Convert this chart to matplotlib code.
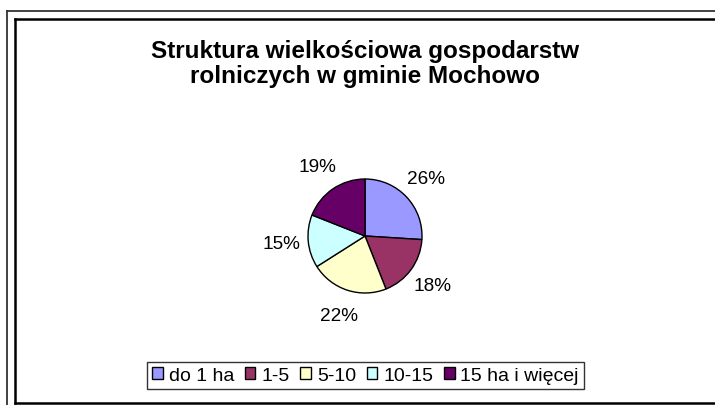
import matplotlib.pyplot as plt
from matplotlib.lines import Line2D

plt.rcParams['font.family'] = ['Liberation Sans', 'DejaVu Sans']

categories = ['do 1 ha', '1-5', '5-10', '10-15', '15 ha i więcej']
shares = [26, 18, 22, 15, 19]
colours = ['#9999FF', '#993366', '#FFFFCC', '#CCFFFF', '#660066']
title = 'Struktura wielkościowa gospodarstw\nrolniczych w gminie Mochowo'

W, H = 715, 406
fig = plt.figure(figsize=(W / 100, H / 100), dpi=100)

# chart frame (pixel coords -> figure coords)
def px(x, y):
    return x / W, 1 - y / H

def line(p0, p1, **kw):
    (x0, y0), (x1, y1) = px(*p0), px(*p1)
    fig.add_artist(Line2D([x0, x1], [y0, y1], transform=fig.transFigure, **kw))

line((7, 12), (W, 12), color='#333333', lw=1.3)
line((7, 12), (7, H), color='#333333', lw=1.3)
line((15, 20), (W, 20), color='black', lw=1.8)
line((15, 20), (15, 404), color='black', lw=1.8)
line((15, 404), (W, 404), color='black', lw=1.8)

fig.text(0.511, 1 - 64 / H, title, ha='center', va='center',
         fontsize=17.5, fontweight='bold', linespacing=1.15)

# pie
cx, cy, r = 365, 237, 57
ax = fig.add_axes([(cx - r) / W, (H - cy - r) / H, 2 * r / W, 2 * r / H])
wedges, _, autotexts = ax.pie(shares, colors=colours, startangle=90, counterclock=False,
                              autopct='%1.0f%%', pctdistance=1.47,
                              wedgeprops=dict(edgecolor='black', linewidth=1.0),
                              textprops=dict(fontsize=13.7))
ax.set_xlim(-1, 1)
ax.set_ylim(-1, 1)
ax.set_aspect('equal')

leg = fig.legend(wedges, categories, loc='center', bbox_to_anchor=px(365.5, 376.5),
                 ncol=5, fontsize=14, frameon=True, fancybox=False,
                 handlelength=0.55, handleheight=0.55, handletextpad=0.3,
                 columnspacing=0.55, borderpad=0.25, borderaxespad=0)
leg.get_frame().set_edgecolor('black')
leg.get_frame().set_linewidth(1.0)

fig.savefig('out.png', dpi=100)
